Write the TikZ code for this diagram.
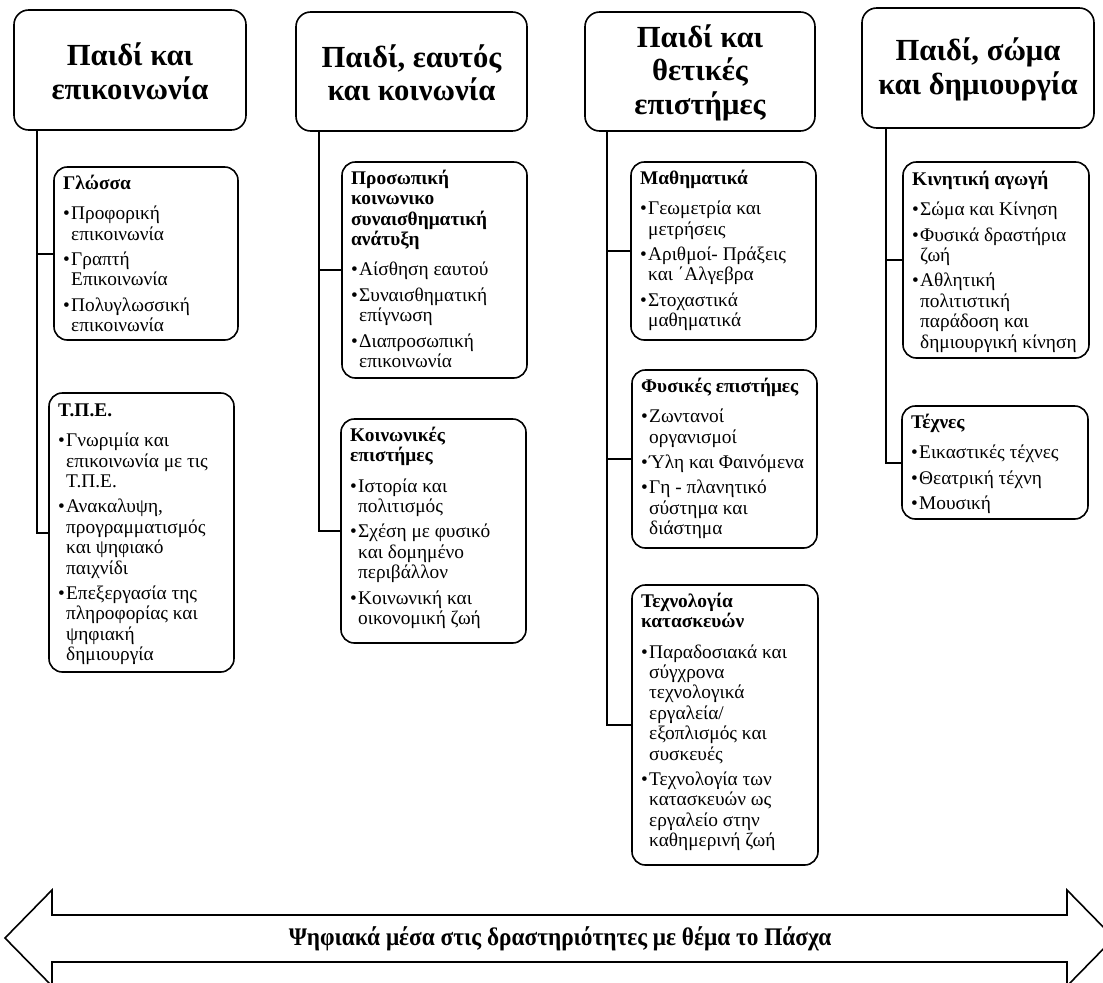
\documentclass[tikz,border=0pt]{standalone}
\usepackage{fontspec}
\setmainfont{Liberation Serif}
\usetikzlibrary{fit}
\tikzset{
  hdr/.style={draw, line width=1.2pt, rounded corners=11pt, inner sep=0pt},
  hdrtext/.style={font=\bfseries\fontsize{23}{25}\selectfont, align=center, inner sep=0pt},
  subbox/.style={draw, line width=1.2pt, rounded corners=10pt, inner sep=0pt},
  subtext/.style={anchor=base west, inner sep=0pt, outer sep=0pt},
  conn/.style={line width=1.5pt},
  bigarrow/.style={draw, line width=1.2pt, fill=white},
  arrowlabel/.style={font=\bfseries\fontsize{19}{22}\selectfont, inner sep=0pt}
}
\newcommand\bxtitle[1]{{\bfseries #1}\par\vspace{7.5pt}}
\newcommand\bxitem[1]{\hangindent=6pt\hangafter=1\noindent\makebox[6pt][l]{•}#1\par\vspace{3.75pt}}
\newcommand\bxcontent[1]{\parbox[t]{200pt}{\fontsize{14.5}{15.3}\selectfont\lineskiplimit=-20pt\parindent=0pt\parskip=0pt\raggedright #1}}
\begin{document}
\begin{tikzpicture}[x=0.75pt,y=-0.75pt]
\useasboundingbox (0,0) rectangle (1103,982);
\clip (0,0) rectangle (1103,982);
\fill[white] (0,0) rectangle (1103,982);

% headers
\node[hdr, fit={(14,10) (246,130)}] (h1) {};
\node[hdrtext] (h1T) at ([yshift=-1pt]h1.center) {Παιδί και\\επικοινωνία};
\node[hdr, fit={(296,12) (527,131)}] (h2) {};
\node[hdrtext] (h2T) at ([yshift=-1pt]h2.center) {Παιδί, εαυτός\\και κοινωνία};
\node[hdr, fit={(585,12) (815,131)}] (h3) {};
\node[hdrtext] (h3T) at ([yshift=-1pt]h3.center) {Παιδί και\\θετικές\\επιστήμες};
\node[hdr, fit={(862,8) (1094,128)}] (h4) {};
\node[hdrtext] (h4T) at ([yshift=-1pt]h4.center) {Παιδί, σώμα\\και δημιουργία};

% column 1
\node[subbox, fit={(54,167) (238,340)}] (glossa) {};
\node[subtext] (glossaT) at ([shift={(10,23)}]glossa.north west) {\bxcontent{%
\bxtitle{Γλώσσα}
\bxitem{Προφορική\newline επικοινωνία}
\bxitem{Γραπτή\newline Επικοινωνία}
\bxitem{Πολυγλωσσική\newline επικοινωνία}}};

\node[subbox, fit={(49,393) (234,672)}] (tpe) {};
\node[subtext] (tpeT) at ([shift={(10,24)}]tpe.north west) {\bxcontent{%
\bxtitle{Τ.Π.Ε.}
\bxitem{Γνωριμία και\newline επικοινωνία με τις\newline Τ.Π.Ε.}
\bxitem{Ανακαλυψη,\newline προγραμματισμός\newline και ψηφιακό\newline παιχνίδι}
\bxitem{Επεξεργασία της\newline πληροφορίας και\newline ψηφιακή\newline δημιουργία}}};

% column 2
\node[subbox, fit={(342,162) (527,378)}] (pros) {};
\node[subtext] (prosT) at ([shift={(10,23)}]pros.north west) {\bxcontent{%
\bxtitle{Προσωπική\newline κοινωνικο\newline συναισθηματική\newline ανάτυξη}
\bxitem{Αίσθηση εαυτού}
\bxitem{Συναισθηματική\newline επίγνωση}
\bxitem{Διαπροσωπική\newline επικοινωνία}}};

\node[subbox, fit={(341,419) (526,643)}] (koin) {};
\node[subtext] (koinT) at ([shift={(10,23)}]koin.north west) {\bxcontent{%
\bxtitle{Κοινωνικές\newline επιστήμες}
\bxitem{Ιστορία και\newline πολιτισμός}
\bxitem{Σχέση με φυσικό\newline και δομημένο\newline περιβάλλον}
\bxitem{Κοινωνική και\newline οικονομική ζωή}}};

% column 3
\node[subbox, fit={(631,162) (816,340)}] (math) {};
\node[subtext] (mathT) at ([shift={(10,23)}]math.north west) {\bxcontent{%
\bxtitle{Μαθηματικά}
\bxitem{Γεωμετρία και\newline μετρήσεις}
\bxitem{Αριθμοί- Πράξεις\newline και ΄Αλγεβρα}
\bxitem{Στοχαστικά\newline μαθηματικά}}};

\node[subbox, fit={(632,370) (817,548)}] (fys) {};
\node[subtext] (fysT) at ([shift={(10,23)}]fys.north west) {\bxcontent{%
\bxtitle{Φυσικές επιστήμες}
\bxitem{Ζωντανοί\newline οργανισμοί}
\bxitem{Ύλη και Φαινόμενα}
\bxitem{Γη - πλανητικό\newline σύστημα και\newline διάστημα}}};

\node[subbox, fit={(632,585) (818,865)}] (tech) {};
\node[subtext] (techT) at ([shift={(10,23)}]tech.north west) {\bxcontent{%
\bxtitle{Τεχνολογία\newline κατασκευών}
\bxitem{Παραδοσιακά και\newline σύγχρονα\newline τεχνολογικά\newline εργαλεία/\newline εξοπλισμός και\newline συσκευές}
\bxitem{Τεχνολογία των\newline κατασκευών ως\newline εργαλείο στην\newline καθημερινή ζωή}}};

% column 4
\node[subbox, fit={(903,162) (1089,358)}] (kin) {};
\node[subtext] (kinT) at ([shift={(10,24)}]kin.north west) {\bxcontent{%
\bxtitle{Κινητική αγωγή}
\bxitem{Σώμα και Κίνηση}
\bxitem{Φυσικά δραστήρια\newline ζωή}
\bxitem{Αθλητική\newline πολιτιστική\newline παράδοση και\newline δημιουργική κίνηση}}};

\node[subbox, fit={(902,406) (1088,519)}] (tex) {};
\node[subtext] (texT) at ([shift={(10,23)}]tex.north west) {\bxcontent{%
\bxtitle{Τέχνες}
\bxitem{Εικαστικές τέχνες}
\bxitem{Θεατρική τέχνη}
\bxitem{Μουσική}}};

% connectors
\draw[conn] ([xshift=17.6pt]h1.south west) |- (glossa.west);
\draw[conn] ([xshift=17.6pt]h1.south west) |- (tpe.west);
\draw[conn] ([xshift=18pt]h2.south west) |- (pros.west);
\draw[conn] ([xshift=18pt]h2.south west) |- (koin.west);
\draw[conn] ([xshift=17.25pt]h3.south west) |- (math.west);
\draw[conn] ([xshift=17.25pt]h3.south west) |- (fys.west);
\draw[conn] ([xshift=17.25pt]h3.south west) |- (tech.west);
\draw[conn] ([xshift=18.75pt]h4.south west) |- (kin.west);
\draw[conn] ([xshift=18.75pt]h4.south west) |- (tex.west);

% bottom double arrow
\draw[bigarrow] (5,938) -- (52,890) -- (52,915) -- (1067,915) -- (1067,890)
  -- (1114,938) -- (1067,986) -- (1067,962) -- (52,962) -- (52,986) -- cycle;
\node[arrowlabel] (arrowtext) at (560,938.5) {\scalebox{0.92}[1]{Ψηφιακά μέσα στις δραστηριότητες με θέμα το Πάσχα}};
\end{tikzpicture}
\end{document}
